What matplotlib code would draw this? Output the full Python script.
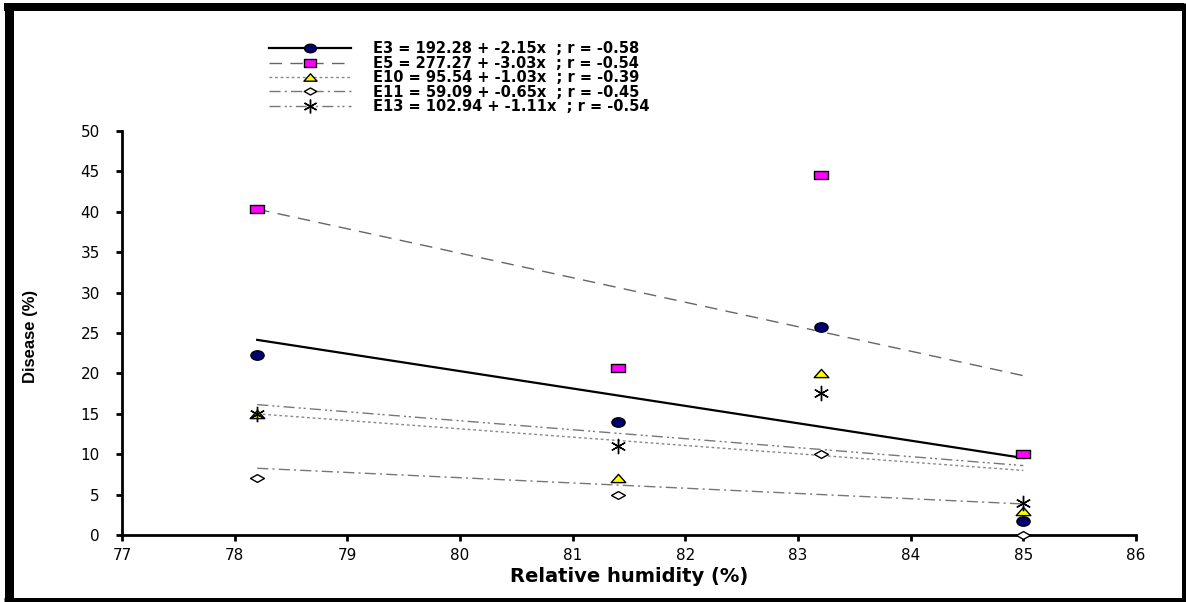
import numpy as np
import matplotlib
matplotlib.use("Agg")
import matplotlib.pyplot as plt
from matplotlib.path import Path
from matplotlib.lines import Line2D

# Données
humidite = [78.2, 81.4, 83.2, 85.0]
series = ["E3", "E5", "E10", "E11", "E13"]
E3 = [22.3, 14.0, 25.7, 1.7]
E5 = [40.4, 20.7, 44.5, 10.0]
E10 = [15.0, 7.0, 20.0, 3.0]
E11 = [7.0, 5.0, 10.0, 0.0]
E13 = [15.0, 11.0, 17.6, 4.0]
intercepts = [192.28, 277.27, 95.54, 59.09, 102.94]
pentes = [-2.15, -3.03, -1.03, -0.65, -1.11]
r_values = [-0.58, -0.54, -0.39, -0.45, -0.54]
x_ticks = [77, 78, 79, 80, 81, 82, 83, 84, 85, 86]
y_ticks = [0, 5, 10, 15, 20, 25, 30, 35, 40, 45, 50]

# Marqueurs élargis (l'image d'origine est étirée horizontalement)
circ = Path.unit_circle()
ellipse = Path(circ.vertices * [1.4, 1.0], circ.codes)
rect = Path([(-1.6, -1), (1.6, -1), (1.6, 1), (-1.6, 1), (-1.6, -1)],
            [Path.MOVETO, Path.LINETO, Path.LINETO, Path.LINETO, Path.CLOSEPOLY])
tri = Path([(-1.6, -0.9), (1.6, -0.9), (0, 0.9), (-1.6, -0.9)],
           [Path.MOVETO, Path.LINETO, Path.LINETO, Path.CLOSEPOLY])
losange = Path([(-1.6, 0), (0, 0.9), (1.6, 0), (0, -0.9), (-1.6, 0)],
               [Path.MOVETO, Path.LINETO, Path.LINETO, Path.LINETO, Path.CLOSEPOLY])

styles = [
    dict(marker=ellipse, mfc="#000070", ms=9.5, ls="-", color="black", lw=1.6),
    dict(marker=rect, mfc="#ff00ff", ms=10, ls=(0, (9, 6)), color="#666666", lw=1.0),
    dict(marker=tri, mfc="#ffff00", ms=10.5, ls=(0, (2, 2)), color="#888888", lw=1.0),
    dict(marker=losange, mfc="white", ms=10, ls=(0, (8, 3, 1.5, 3)), color="#777777", lw=1.0),
    dict(marker=(6, 2, 0), mfc="black", ms=11, ls=(0, (8, 3, 1.5, 2, 1.5, 3)), color="#777777", lw=1.0),
]
donnees = [E3, E5, E10, E11, E13]

fig = plt.figure(figsize=(11.86, 6.02), dpi=100)
ax = fig.add_axes([122 / 1186, 1 - 535 / 602, 1014 / 1186, 404 / 602])

handles = []
labels = []
x_fit = np.array([humidite[0], humidite[-1]])
for nom, y, a, b, r, st in zip(series, donnees, intercepts, pentes, r_values, styles):
    ax.plot(x_fit, a + b * x_fit, ls=st["ls"], color=st["color"], lw=st["lw"], zorder=2)
    ax.plot(humidite, y, ls="none", marker=st["marker"], ms=st["ms"],
            mfc=st["mfc"], mec="black", mew=1.0, zorder=3, clip_on=False)
    handles.append(Line2D([], [], ls=st["ls"], color=st["color"], lw=st["lw"],
                          marker=st["marker"], ms=st["ms"] * 0.9, mfc=st["mfc"],
                          mec="black", mew=1.0))
    labels.append(f"{nom} = {a:.2f} + {b:.2f}x  ; r = {r:.2f}")

ax.set_xlim(77, 86)
ax.set_ylim(0, 50)
ax.set_xticks(x_ticks)
ax.set_yticks(y_ticks)
for s in ["top", "right"]:
    ax.spines[s].set_visible(False)
for s in ["left", "bottom"]:
    ax.spines[s].set_linewidth(2)
ax.tick_params(axis="both", direction="out", length=4, width=2, labelsize=11)
ax.tick_params(axis="y", pad=12)
ax.tick_params(axis="x", pad=5)

ax.set_xlabel("Relative humidity (%)", fontsize=14, fontweight="bold", labelpad=3)
fig.text(30 / 1186, 1 - 336 / 602, "Disease (%)", rotation=90, ha="center", va="center",
         fontsize=12, fontweight="bold", family=["Liberation Sans", "DejaVu Sans"])

fig.legend(handles, labels, loc="upper left", bbox_to_anchor=(262 / 1186, 1 - 34 / 602),
           frameon=False, prop=dict(size=10.5, weight="semibold"), handlelength=5.6,
           labelspacing=-0.04, handletextpad=1.5, borderpad=0, numpoints=1)

# Cadre noir autour de la figure (plus épais à gauche et en haut)
W, H = 1186, 602
cadre = [((8.5, 8.5), (3, 598)), ((4, 1183.5), (7, 7)),
         ((1183.5, 1183.5), (3, 600)), ((4, 1186), (599.5, 599.5))]
epais = [9, 8, 5, 5]
for (xs, ys), e in zip(cadre, epais):
    fig.add_artist(Line2D([x / W for x in xs], [1 - y / H for y in ys],
                          transform=fig.transFigure, color="black", lw=e * 0.72,
                          solid_capstyle="butt"))

plt.savefig("out.png", dpi=100)
